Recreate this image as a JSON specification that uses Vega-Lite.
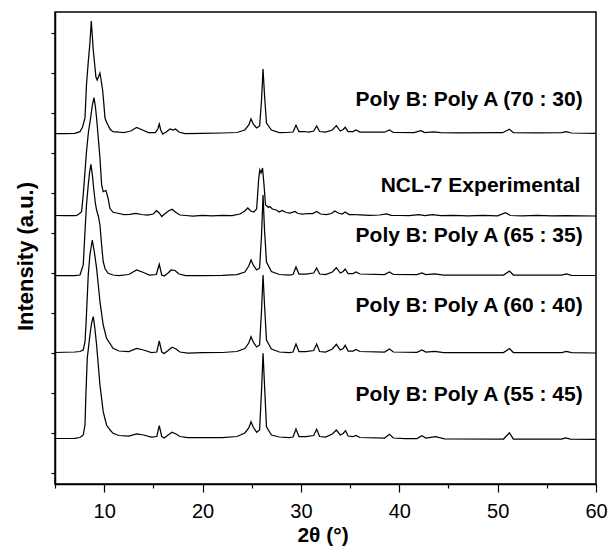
{
"$schema": "https://vega.github.io/schema/vega-lite/v6.json",
"width": 541, "height": 472,
"autosize": {"type": "none"},
"padding": {"left": 55, "top": 12, "right": 15, "bottom": 63},
"config": {"view": {"stroke": "black", "strokeWidth": 1.5}, "font": "Liberation Sans"},
"encoding": {
  "x": {"field": "t", "type": "quantitative", "scale": {"domain": [5, 60], "nice": false, "zero": false},
    "axis": {"values": [5,10,15,20,25,30,35,40,45,50,55,60], "labelExpr": "datum.value % 10 === 0 ? datum.label : ''",
      "tickSize": {"condition": {"test": "datum.value % 10 === 0", "value": 8}, "value": 4},
      "tickColor": "black", "tickWidth": 1.2, "domainColor": "black", "domainWidth": 1.5, "grid": false,
      "labelFontSize": 20, "labelColor": "black", "labelPadding": 9, "labelFlush": false, "labelOverlap": false,
      "title": "2θ (°)", "titleFontSize": 21, "titleFontWeight": "bold", "titleColor": "black",
      "titleX": 267.5, "titleY": 57, "titleBaseline": "alphabetic"}},
  "y": {"field": "y", "type": "quantitative", "scale": {"domain": [-11, 461], "nice": false, "zero": false},
    "axis": {"values": [0,40,80,120,160,200,240,280,320,360,400,440], "labels": false, "tickSize": 4,
      "tickColor": "black", "tickWidth": 1.2, "domainColor": "black", "domainWidth": 1.5, "grid": false,
      "title": "Intensity (a.u.)", "titleFontSize": 22, "titleFontWeight": "bold", "titleColor": "black",
      "titleX": -18, "titleY": 244, "titleBaseline": "bottom"}}
},
"layer": [
{
"data": {"values": [
{"s":"T1","t":5,"y":339.5},{"s":"T1","t":6,"y":339.5},{"s":"T1","t":7,"y":339.7},{"s":"T1","t":7.54,"y":341.3},{"s":"T1","t":7.8,"y":346},{"s":"T1","t":8.05,"y":355},{"s":"T1","t":8.2,"y":388},{"s":"T1","t":8.38,"y":411},{"s":"T1","t":8.55,"y":430},{"s":"T1","t":8.69,"y":452},{"s":"T1","t":8.89,"y":423},{"s":"T1","t":9.05,"y":407},{"s":"T1","t":9.16,"y":396},{"s":"T1","t":9.29,"y":393},{"s":"T1","t":9.45,"y":397},{"s":"T1","t":9.57,"y":400},{"s":"T1","t":9.7,"y":392},{"s":"T1","t":9.84,"y":383},{"s":"T1","t":9.95,"y":371},{"s":"T1","t":10.08,"y":355},{"s":"T1","t":10.24,"y":351},{"s":"T1","t":10.6,"y":343.7},{"s":"T1","t":10.9,"y":341.3},{"s":"T1","t":11.5,"y":340.8},{"s":"T1","t":12,"y":340.5},{"s":"T1","t":12.7,"y":342},{"s":"T1","t":13.3,"y":345.5},{"s":"T1","t":13.9,"y":343},{"s":"T1","t":14.5,"y":340.5},{"s":"T1","t":15.2,"y":340.5},{"s":"T1","t":15.45,"y":344},{"s":"T1","t":15.6,"y":349},{"s":"T1","t":15.75,"y":343},{"s":"T1","t":15.95,"y":339},{"s":"T1","t":16.3,"y":341},{"s":"T1","t":16.7,"y":344},{"s":"T1","t":17,"y":343},{"s":"T1","t":17.25,"y":344},{"s":"T1","t":17.6,"y":341},{"s":"T1","t":18.2,"y":339.5},{"s":"T1","t":20,"y":339.7},{"s":"T1","t":22,"y":340},{"s":"T1","t":23.5,"y":340.5},{"s":"T1","t":24.3,"y":343},{"s":"T1","t":24.7,"y":348},{"s":"T1","t":24.93,"y":354},{"s":"T1","t":25.15,"y":349},{"s":"T1","t":25.5,"y":345},{"s":"T1","t":25.8,"y":347},{"s":"T1","t":26,"y":373},{"s":"T1","t":26.15,"y":404},{"s":"T1","t":26.3,"y":378},{"s":"T1","t":26.5,"y":350},{"s":"T1","t":27,"y":343},{"s":"T1","t":27.8,"y":340.3},{"s":"T1","t":28.5,"y":340.5},{"s":"T1","t":29.2,"y":341},{"s":"T1","t":29.5,"y":347.7},{"s":"T1","t":29.8,"y":341.5},{"s":"T1","t":30.3,"y":341.5},{"s":"T1","t":30.8,"y":341},{"s":"T1","t":31.3,"y":342},{"s":"T1","t":31.6,"y":347},{"s":"T1","t":31.9,"y":341.5},{"s":"T1","t":32.5,"y":341},{"s":"T1","t":33.2,"y":343},{"s":"T1","t":33.6,"y":347.3},{"s":"T1","t":34,"y":342},{"s":"T1","t":34.3,"y":343.5},{"s":"T1","t":34.5,"y":345.7},{"s":"T1","t":34.8,"y":341.5},{"s":"T1","t":35.3,"y":341.5},{"s":"T1","t":35.6,"y":343},{"s":"T1","t":36,"y":341},{"s":"T1","t":37,"y":341},{"s":"T1","t":38.5,"y":340.8},{"s":"T1","t":39,"y":343},{"s":"T1","t":39.4,"y":340.5},{"s":"T1","t":41.5,"y":340.3},{"s":"T1","t":42.2,"y":342.3},{"s":"T1","t":42.6,"y":340.5},{"s":"T1","t":43.5,"y":341},{"s":"T1","t":44.2,"y":340.3},{"s":"T1","t":46,"y":340.2},{"s":"T1","t":50.5,"y":340.3},{"s":"T1","t":51.2,"y":343.7},{"s":"T1","t":51.6,"y":340.3},{"s":"T1","t":54,"y":340.2},{"s":"T1","t":56.5,"y":340.3},{"s":"T1","t":57,"y":341.3},{"s":"T1","t":57.5,"y":340},{"s":"T1","t":60,"y":339.7},
{"s":"T2","t":5,"y":257.5},{"s":"T2","t":6,"y":257.3},{"s":"T2","t":7,"y":257.3},{"s":"T2","t":7.2,"y":257.5},{"s":"T2","t":7.5,"y":259.5},{"s":"T2","t":7.7,"y":261.3},{"s":"T2","t":7.87,"y":278},{"s":"T2","t":8.05,"y":301.3},{"s":"T2","t":8.2,"y":321.3},{"s":"T2","t":8.4,"y":341},{"s":"T2","t":8.62,"y":355},{"s":"T2","t":8.8,"y":368},{"s":"T2","t":8.96,"y":375.3},{"s":"T2","t":9.1,"y":367},{"s":"T2","t":9.23,"y":354.7},{"s":"T2","t":9.4,"y":335},{"s":"T2","t":9.57,"y":315},{"s":"T2","t":9.74,"y":288},{"s":"T2","t":9.9,"y":281.3},{"s":"T2","t":10.05,"y":282},{"s":"T2","t":10.18,"y":282.5},{"s":"T2","t":10.4,"y":274.7},{"s":"T2","t":10.58,"y":264.7},{"s":"T2","t":10.9,"y":260.7},{"s":"T2","t":11.5,"y":259.5},{"s":"T2","t":12,"y":258.5},{"s":"T2","t":12.6,"y":258.7},{"s":"T2","t":13.2,"y":259.5},{"s":"T2","t":13.8,"y":258.5},{"s":"T2","t":14.4,"y":258},{"s":"T2","t":15,"y":259},{"s":"T2","t":15.3,"y":262.3},{"s":"T2","t":15.6,"y":260},{"s":"T2","t":15.85,"y":256.5},{"s":"T2","t":16.2,"y":259.5},{"s":"T2","t":16.6,"y":262.5},{"s":"T2","t":16.9,"y":263.7},{"s":"T2","t":17.3,"y":260.5},{"s":"T2","t":17.7,"y":258},{"s":"T2","t":18.3,"y":257.5},{"s":"T2","t":19,"y":257},{"s":"T2","t":20,"y":257.5},{"s":"T2","t":21,"y":257.2},{"s":"T2","t":22,"y":257.7},{"s":"T2","t":23,"y":257.5},{"s":"T2","t":23.8,"y":259},{"s":"T2","t":24.3,"y":262},{"s":"T2","t":24.6,"y":265},{"s":"T2","t":24.9,"y":262},{"s":"T2","t":25.2,"y":261},{"s":"T2","t":25.5,"y":264},{"s":"T2","t":25.7,"y":293},{"s":"T2","t":25.82,"y":303},{"s":"T2","t":25.95,"y":300},{"s":"T2","t":26.1,"y":305},{"s":"T2","t":26.25,"y":288},{"s":"T2","t":26.4,"y":268},{"s":"T2","t":26.55,"y":267},{"s":"T2","t":26.7,"y":265.5},{"s":"T2","t":26.85,"y":266.5},{"s":"T2","t":27.1,"y":264},{"s":"T2","t":27.5,"y":263},{"s":"T2","t":27.8,"y":261},{"s":"T2","t":28.1,"y":262.5},{"s":"T2","t":28.5,"y":260.5},{"s":"T2","t":28.9,"y":260},{"s":"T2","t":29.4,"y":261.5},{"s":"T2","t":29.7,"y":259.5},{"s":"T2","t":30.2,"y":259},{"s":"T2","t":30.7,"y":259.5},{"s":"T2","t":31.2,"y":259.5},{"s":"T2","t":31.6,"y":261.5},{"s":"T2","t":32,"y":259},{"s":"T2","t":32.6,"y":258.5},{"s":"T2","t":33.1,"y":259.5},{"s":"T2","t":33.45,"y":262},{"s":"T2","t":33.8,"y":260},{"s":"T2","t":34.2,"y":259},{"s":"T2","t":34.5,"y":261},{"s":"T2","t":34.9,"y":258.5},{"s":"T2","t":35.4,"y":258.5},{"s":"T2","t":36,"y":258.2},{"s":"T2","t":37,"y":257.7},{"s":"T2","t":38,"y":258},{"s":"T2","t":38.7,"y":259},{"s":"T2","t":39.2,"y":257.7},{"s":"T2","t":40,"y":257.5},{"s":"T2","t":41,"y":257.3},{"s":"T2","t":42,"y":258.3},{"s":"T2","t":42.6,"y":257.5},{"s":"T2","t":43.4,"y":258.3},{"s":"T2","t":44.2,"y":257.3},{"s":"T2","t":45.5,"y":257.5},{"s":"T2","t":47,"y":257.2},{"s":"T2","t":48.5,"y":257.5},{"s":"T2","t":50,"y":257.2},{"s":"T2","t":50.8,"y":260.3},{"s":"T2","t":51.3,"y":257.5},{"s":"T2","t":52.5,"y":257.2},{"s":"T2","t":54,"y":257.5},{"s":"T2","t":55.5,"y":257.2},{"s":"T2","t":57,"y":257.4},{"s":"T2","t":58.5,"y":257.1},{"s":"T2","t":60,"y":257},
{"s":"T3","t":5,"y":197.5},{"s":"T3","t":6,"y":197.5},{"s":"T3","t":7,"y":197.5},{"s":"T3","t":7.54,"y":198},{"s":"T3","t":7.87,"y":208},{"s":"T3","t":8.05,"y":241.3},{"s":"T3","t":8.2,"y":268},{"s":"T3","t":8.38,"y":288},{"s":"T3","t":8.52,"y":301},{"s":"T3","t":8.65,"y":308.7},{"s":"T3","t":8.8,"y":298},{"s":"T3","t":8.95,"y":283},{"s":"T3","t":9.1,"y":270},{"s":"T3","t":9.23,"y":263},{"s":"T3","t":9.4,"y":257},{"s":"T3","t":9.57,"y":248},{"s":"T3","t":9.74,"y":228},{"s":"T3","t":9.9,"y":211.3},{"s":"T3","t":10.1,"y":204},{"s":"T3","t":10.4,"y":199.7},{"s":"T3","t":10.9,"y":198},{"s":"T3","t":11.5,"y":197.5},{"s":"T3","t":12.5,"y":198.5},{"s":"T3","t":13.3,"y":203},{"s":"T3","t":14,"y":200.5},{"s":"T3","t":14.6,"y":198},{"s":"T3","t":15.3,"y":198.5},{"s":"T3","t":15.6,"y":208.7},{"s":"T3","t":15.85,"y":198},{"s":"T3","t":16.1,"y":197},{"s":"T3","t":16.5,"y":200},{"s":"T3","t":16.8,"y":203},{"s":"T3","t":17.2,"y":202.5},{"s":"T3","t":17.6,"y":199},{"s":"T3","t":18.3,"y":197.5},{"s":"T3","t":20,"y":197.5},{"s":"T3","t":22,"y":197.7},{"s":"T3","t":23.5,"y":198.3},{"s":"T3","t":24.3,"y":201},{"s":"T3","t":24.7,"y":207},{"s":"T3","t":24.93,"y":213},{"s":"T3","t":25.15,"y":208},{"s":"T3","t":25.5,"y":203},{"s":"T3","t":25.8,"y":205},{"s":"T3","t":26,"y":238},{"s":"T3","t":26.15,"y":278},{"s":"T3","t":26.3,"y":243},{"s":"T3","t":26.5,"y":211},{"s":"T3","t":27,"y":201.5},{"s":"T3","t":27.8,"y":198.5},{"s":"T3","t":28.8,"y":198},{"s":"T3","t":29.2,"y":198.5},{"s":"T3","t":29.5,"y":206},{"s":"T3","t":29.8,"y":199},{"s":"T3","t":30.5,"y":199},{"s":"T3","t":31.3,"y":200},{"s":"T3","t":31.6,"y":205},{"s":"T3","t":31.9,"y":199},{"s":"T3","t":32.5,"y":198.5},{"s":"T3","t":33.2,"y":201},{"s":"T3","t":33.6,"y":205.3},{"s":"T3","t":34,"y":200},{"s":"T3","t":34.3,"y":201.5},{"s":"T3","t":34.5,"y":204},{"s":"T3","t":34.8,"y":199.5},{"s":"T3","t":35.3,"y":199.5},{"s":"T3","t":35.6,"y":201},{"s":"T3","t":36,"y":199},{"s":"T3","t":38.5,"y":198.5},{"s":"T3","t":39,"y":201},{"s":"T3","t":39.4,"y":198.5},{"s":"T3","t":41.8,"y":198.3},{"s":"T3","t":42.3,"y":200},{"s":"T3","t":42.7,"y":198.5},{"s":"T3","t":43.6,"y":199},{"s":"T3","t":44.5,"y":198},{"s":"T3","t":50.6,"y":198},{"s":"T3","t":51.2,"y":202},{"s":"T3","t":51.6,"y":198},{"s":"T3","t":56.5,"y":198},{"s":"T3","t":57,"y":199},{"s":"T3","t":57.5,"y":197.7},{"s":"T3","t":60,"y":197.5},
{"s":"T4","t":5,"y":120.5},{"s":"T4","t":7,"y":121},{"s":"T4","t":7.54,"y":121.5},{"s":"T4","t":7.87,"y":123},{"s":"T4","t":8.05,"y":131.3},{"s":"T4","t":8.15,"y":148},{"s":"T4","t":8.38,"y":198},{"s":"T4","t":8.55,"y":218},{"s":"T4","t":8.79,"y":233},{"s":"T4","t":9,"y":221},{"s":"T4","t":9.23,"y":204.7},{"s":"T4","t":9.4,"y":188},{"s":"T4","t":9.57,"y":171.3},{"s":"T4","t":9.9,"y":148},{"s":"T4","t":10.24,"y":134.7},{"s":"T4","t":10.9,"y":124.7},{"s":"T4","t":11.5,"y":122},{"s":"T4","t":12.5,"y":121.5},{"s":"T4","t":13.3,"y":124.7},{"s":"T4","t":14,"y":123},{"s":"T4","t":14.8,"y":120.5},{"s":"T4","t":15.35,"y":121},{"s":"T4","t":15.6,"y":132},{"s":"T4","t":15.85,"y":121},{"s":"T4","t":16.1,"y":119.5},{"s":"T4","t":16.5,"y":122.5},{"s":"T4","t":16.9,"y":125.7},{"s":"T4","t":17.3,"y":124},{"s":"T4","t":17.7,"y":121},{"s":"T4","t":18.5,"y":120},{"s":"T4","t":20,"y":120.3},{"s":"T4","t":22,"y":120.5},{"s":"T4","t":23.5,"y":121.5},{"s":"T4","t":24.3,"y":124.5},{"s":"T4","t":24.7,"y":130},{"s":"T4","t":24.93,"y":136.3},{"s":"T4","t":25.15,"y":131},{"s":"T4","t":25.5,"y":126},{"s":"T4","t":25.8,"y":128},{"s":"T4","t":26,"y":163},{"s":"T4","t":26.15,"y":198},{"s":"T4","t":26.3,"y":168},{"s":"T4","t":26.5,"y":133},{"s":"T4","t":27,"y":124},{"s":"T4","t":27.8,"y":121},{"s":"T4","t":28.8,"y":120.5},{"s":"T4","t":29.2,"y":121},{"s":"T4","t":29.5,"y":129},{"s":"T4","t":29.8,"y":121.5},{"s":"T4","t":30.5,"y":121.5},{"s":"T4","t":31.3,"y":122.5},{"s":"T4","t":31.6,"y":129},{"s":"T4","t":31.9,"y":121.5},{"s":"T4","t":32.5,"y":121},{"s":"T4","t":33.2,"y":124},{"s":"T4","t":33.6,"y":128.7},{"s":"T4","t":34,"y":123},{"s":"T4","t":34.3,"y":124.5},{"s":"T4","t":34.5,"y":127.7},{"s":"T4","t":34.8,"y":122},{"s":"T4","t":35.3,"y":122},{"s":"T4","t":35.6,"y":123.5},{"s":"T4","t":36,"y":121.5},{"s":"T4","t":38.5,"y":121},{"s":"T4","t":39,"y":124},{"s":"T4","t":39.4,"y":121},{"s":"T4","t":41.8,"y":120.7},{"s":"T4","t":42.3,"y":123},{"s":"T4","t":42.7,"y":121},{"s":"T4","t":43.6,"y":121.5},{"s":"T4","t":44.5,"y":120.5},{"s":"T4","t":50.6,"y":120.5},{"s":"T4","t":51.2,"y":124.5},{"s":"T4","t":51.6,"y":120.5},{"s":"T4","t":56.5,"y":120.5},{"s":"T4","t":57,"y":121.5},{"s":"T4","t":57.5,"y":120.3},{"s":"T4","t":60,"y":120},
{"s":"T5","t":5,"y":34.5},{"s":"T5","t":7,"y":34.7},{"s":"T5","t":7.54,"y":35.5},{"s":"T5","t":7.87,"y":38},{"s":"T5","t":8.05,"y":48},{"s":"T5","t":8.15,"y":81.3},{"s":"T5","t":8.28,"y":114.7},{"s":"T5","t":8.55,"y":138},{"s":"T5","t":8.72,"y":150},{"s":"T5","t":8.89,"y":156.3},{"s":"T5","t":9.05,"y":145},{"s":"T5","t":9.23,"y":128},{"s":"T5","t":9.4,"y":108},{"s":"T5","t":9.57,"y":88},{"s":"T5","t":9.9,"y":61.3},{"s":"T5","t":10.24,"y":48},{"s":"T5","t":10.6,"y":43},{"s":"T5","t":10.9,"y":39.7},{"s":"T5","t":11.5,"y":37.5},{"s":"T5","t":12.5,"y":37},{"s":"T5","t":13.3,"y":39},{"s":"T5","t":14,"y":38},{"s":"T5","t":14.8,"y":36},{"s":"T5","t":15.35,"y":36.5},{"s":"T5","t":15.6,"y":47.3},{"s":"T5","t":15.85,"y":36.5},{"s":"T5","t":16.1,"y":35},{"s":"T5","t":16.5,"y":38},{"s":"T5","t":16.9,"y":40.7},{"s":"T5","t":17.3,"y":39},{"s":"T5","t":17.7,"y":36.5},{"s":"T5","t":18.5,"y":35.5},{"s":"T5","t":20,"y":35.5},{"s":"T5","t":22,"y":35.5},{"s":"T5","t":23.5,"y":36.5},{"s":"T5","t":24.3,"y":40},{"s":"T5","t":24.7,"y":45},{"s":"T5","t":24.93,"y":51.3},{"s":"T5","t":25.15,"y":46},{"s":"T5","t":25.5,"y":40.7},{"s":"T5","t":25.8,"y":43},{"s":"T5","t":26,"y":83},{"s":"T5","t":26.15,"y":119.7},{"s":"T5","t":26.3,"y":88},{"s":"T5","t":26.5,"y":46.3},{"s":"T5","t":27,"y":38},{"s":"T5","t":27.8,"y":36},{"s":"T5","t":28.8,"y":35.5},{"s":"T5","t":29.2,"y":36},{"s":"T5","t":29.5,"y":44},{"s":"T5","t":29.8,"y":36.5},{"s":"T5","t":30.5,"y":36.5},{"s":"T5","t":31.3,"y":37.5},{"s":"T5","t":31.6,"y":43.7},{"s":"T5","t":31.9,"y":36.5},{"s":"T5","t":32.5,"y":36},{"s":"T5","t":33.2,"y":39},{"s":"T5","t":33.6,"y":43},{"s":"T5","t":34,"y":38},{"s":"T5","t":34.3,"y":39.5},{"s":"T5","t":34.54,"y":42.3},{"s":"T5","t":34.8,"y":37},{"s":"T5","t":35.3,"y":36.5},{"s":"T5","t":35.6,"y":37.5},{"s":"T5","t":36,"y":35.5},{"s":"T5","t":38.5,"y":35},{"s":"T5","t":39,"y":38.7},{"s":"T5","t":39.4,"y":35},{"s":"T5","t":40.6,"y":34.5},{"s":"T5","t":41.8,"y":34.5},{"s":"T5","t":42.3,"y":37.3},{"s":"T5","t":42.7,"y":35},{"s":"T5","t":43.7,"y":36.3},{"s":"T5","t":44.6,"y":34.2},{"s":"T5","t":50.6,"y":34},{"s":"T5","t":51.2,"y":40.3},{"s":"T5","t":51.6,"y":34},{"s":"T5","t":56.5,"y":34},{"s":"T5","t":56.9,"y":35},{"s":"T5","t":57.4,"y":33.8},{"s":"T5","t":60,"y":33.7}
]},
"mark": {"type": "line", "color": "black", "strokeWidth": 1.25},
"encoding": {"detail": {"field": "s"}}
},
{
"data": {"values": [
{"label": "Poly B: Poly A (70 : 30)", "t": 58.65, "y": 367},
{"label": "NCL-7 Experimental", "t": 58.4, "y": 281.3},
{"label": "Poly B: Poly A (65 : 35)", "t": 58.65, "y": 231.3},
{"label": "Poly B: Poly A (60 : 40)", "t": 58.65, "y": 160.7},
{"label": "Poly B: Poly A (55 : 45)", "t": 58.65, "y": 72.3}
]},
"mark": {"type": "text", "align": "right", "baseline": "alphabetic", "fontSize": 21, "fontWeight": "bold", "font": "Liberation Sans", "color": "black"},
"encoding": {"text": {"field": "label"}}
}
]
}
